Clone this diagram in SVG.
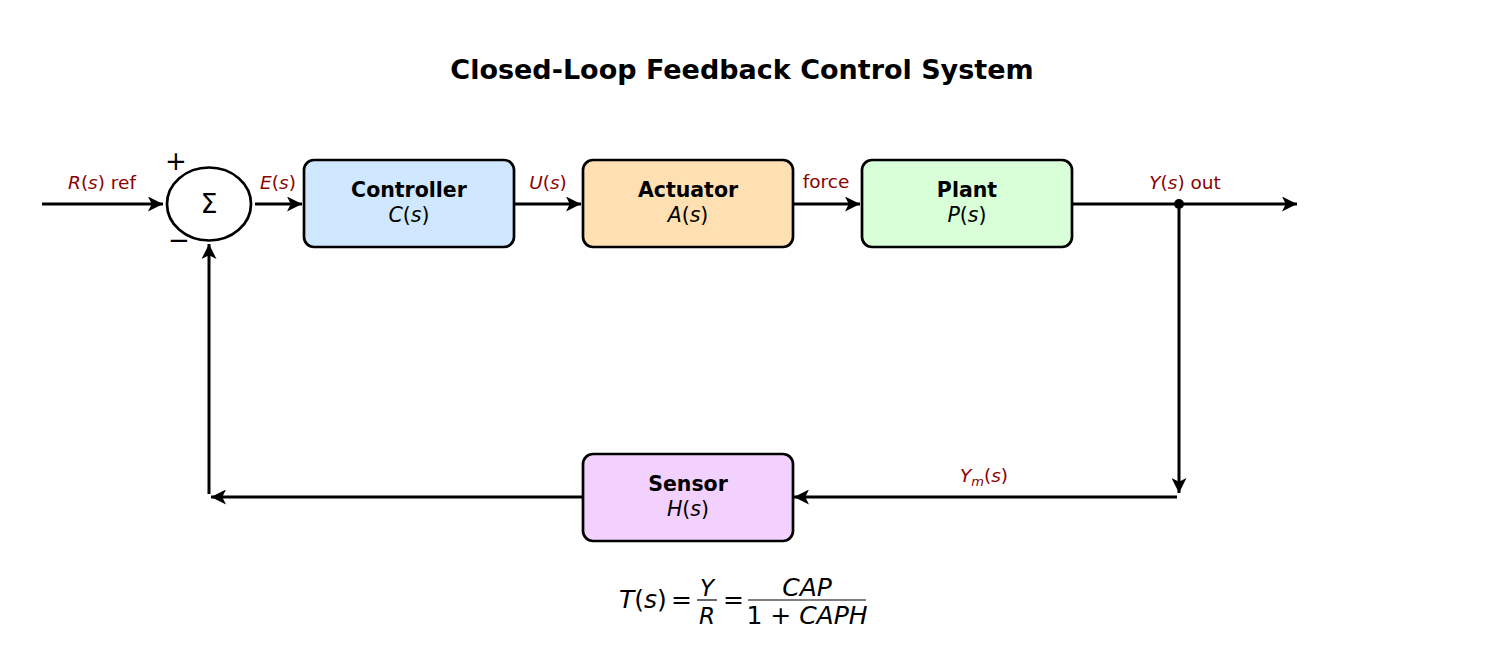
<svg xmlns="http://www.w3.org/2000/svg" width="1485" height="660" viewBox="0 0 1485 660">
<style>
text{font-family:"DejaVu Sans","Liberation Sans",sans-serif;fill:#000}
.title{font-size:27px;font-weight:bold}
.box{stroke:#000;stroke-width:2.7}
.nm{font-size:20.5px;font-weight:bold}
.tf{font-size:20.5px}
.lbl{font-size:18.5px;fill:#8b0000}
.it{font-style:italic}
.ln{stroke:#000;stroke-width:3;fill:none}
.eq{font-size:25px}
.fr{font-size:23px}
</style>
<defs>
<marker id="ah" viewBox="0 0 10 10" refX="10" refY="5" markerWidth="5" markerHeight="5" markerUnits="strokeWidth" orient="auto">
<path d="M0,0 L10,5 L0,10 L2.5,5 Z" fill="#000"/>
</marker>
</defs>
<rect width="1485" height="660" fill="#fff"/>
<text class="title" x="742" y="79" text-anchor="middle">Closed-Loop Feedback Control System</text>

<g id="connectors">
<line class="ln" x1="42" y1="204" x2="163" y2="204" marker-end="url(#ah)"/>
<line class="ln" x1="255" y1="204" x2="302" y2="204" marker-end="url(#ah)"/>
<line class="ln" x1="515" y1="204" x2="581" y2="204" marker-end="url(#ah)"/>
<line class="ln" x1="794" y1="204" x2="860" y2="204" marker-end="url(#ah)"/>
<line class="ln" x1="1072" y1="204" x2="1297" y2="204" marker-end="url(#ah)"/>
<circle cx="1179" cy="204" r="5" fill="#000"/>
<line class="ln" x1="1179" y1="204" x2="1179" y2="493" marker-end="url(#ah)"/>
<line class="ln" x1="1177" y1="497" x2="794" y2="497" marker-end="url(#ah)"/>
<line class="ln" x1="583" y1="497" x2="211" y2="497" marker-end="url(#ah)"/>
<line class="ln" x1="209" y1="494" x2="209" y2="244" marker-end="url(#ah)"/>
<text class="lbl" x="102" y="189" text-anchor="middle"><tspan class="it">R</tspan>(<tspan class="it">s</tspan>) ref</text>
<text class="lbl" x="278" y="189" text-anchor="middle"><tspan class="it">E</tspan>(<tspan class="it">s</tspan>)</text>
<text class="lbl" x="548" y="189" text-anchor="middle"><tspan class="it">U</tspan>(<tspan class="it">s</tspan>)</text>
<text class="lbl" x="826" y="188" text-anchor="middle">force</text>
<text class="lbl" x="1185" y="189" text-anchor="middle"><tspan class="it">Y</tspan>(<tspan class="it">s</tspan>) out</text>
<text class="lbl" x="984" y="482" text-anchor="middle"><tspan class="it">Y</tspan><tspan class="it" font-size="13" dy="4">m</tspan><tspan dy="-4">(</tspan><tspan class="it">s</tspan>)</text>
</g>

<g id="sum">
<ellipse cx="209" cy="204" rx="42" ry="36.5" fill="#fff" stroke="#000" stroke-width="2.7"/>
<text x="209" y="213" font-size="27" text-anchor="middle">Σ</text>
<text x="176" y="170" font-size="26" text-anchor="middle">+</text>
<text x="179" y="249" font-size="26" text-anchor="middle">−</text>
</g>

<g id="controller">
<rect class="box" x="304" y="160" width="210" height="87" rx="10" fill="#cfe8ff"/>
<text class="nm" x="409" y="197" text-anchor="middle">Controller</text>
<text class="tf" x="409" y="222" text-anchor="middle"><tspan class="it">C</tspan>(<tspan class="it">s</tspan>)</text>
</g>
<g id="actuator">
<rect class="box" x="583" y="160" width="210" height="87" rx="10" fill="#ffe0b2"/>
<text class="nm" x="688" y="197" text-anchor="middle">Actuator</text>
<text class="tf" x="688" y="222" text-anchor="middle"><tspan class="it">A</tspan>(<tspan class="it">s</tspan>)</text>
</g>
<g id="plant">
<rect class="box" x="862" y="160" width="210" height="87" rx="10" fill="#d8ffd8"/>
<text class="nm" x="967" y="197" text-anchor="middle">Plant</text>
<text class="tf" x="967" y="222" text-anchor="middle"><tspan class="it">P</tspan>(<tspan class="it">s</tspan>)</text>
</g>
<g id="sensor">
<rect class="box" x="583" y="454" width="210" height="87" rx="10" fill="#f3d1ff"/>
<text class="nm" x="688" y="491" text-anchor="middle">Sensor</text>
<text class="tf" x="688" y="516" text-anchor="middle"><tspan class="it">H</tspan>(<tspan class="it">s</tspan>)</text>
</g>

<g id="equation">
<line x1="697" y1="600" x2="717" y2="600" stroke="#000" stroke-width="1.2"/>
<line x1="748" y1="600" x2="866" y2="600" stroke="#000" stroke-width="1.2"/>
<text class="eq" x="619" y="608"><tspan class="it">T</tspan>(<tspan class="it">s</tspan>)</text>
<text class="eq" x="671" y="608">=</text>
<text class="fr it" x="707" y="596" text-anchor="middle">Y</text>
<text class="fr it" x="707" y="624" text-anchor="middle">R</text>
<text class="eq" x="723" y="608">=</text>
<text class="eq it" x="807" y="596" text-anchor="middle">CAP</text>
<text class="eq" x="807" y="624" text-anchor="middle">1 + <tspan class="it">CAPH</tspan></text>
</g>
</svg>
